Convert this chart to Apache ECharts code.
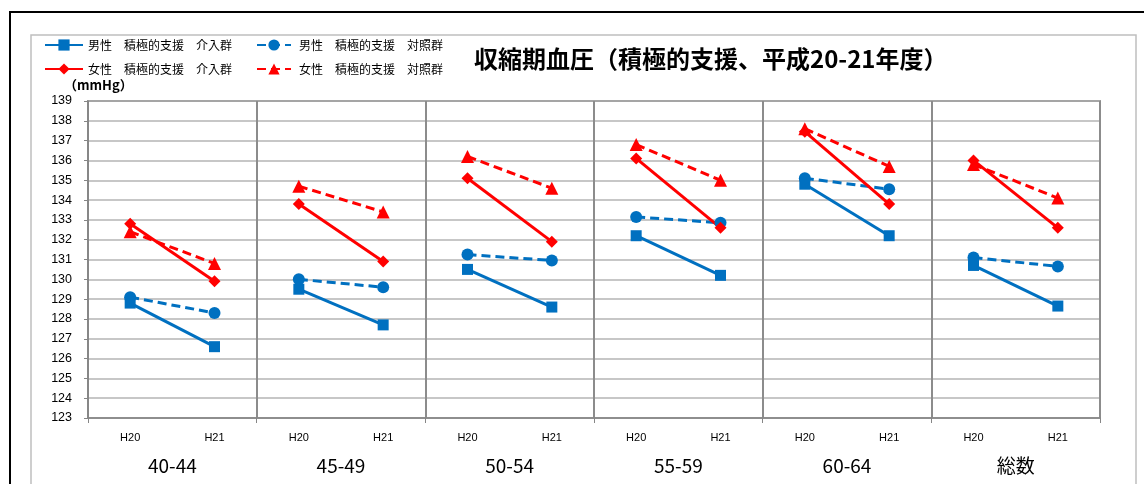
<!DOCTYPE html>
<html>
<head>
<meta charset="utf-8">
<script src="https://cdn.jsdelivr.net/npm/echarts@6/dist/echarts.min.js"></script>
<style>
  html, body { margin: 0; padding: 0; background: #fff; }
  #chart { width: 1144px; height: 484px; }
</style>
</head>
<body>
<div id="chart"></div>
<script>
// Age groups and survey years
const groups = ['40-44', '45-49', '50-54', '55-59', '60-64', '総数'];
const years = ['H20', 'H21'];

// Systolic blood pressure (mmHg), [H20, H21] per age group
const maleIntervention   = [[128.8, 126.6], [129.5, 127.7], [130.5, 128.6], [132.2, 130.2], [134.8, 132.2], [130.7, 128.65]];
const maleControl        = [[129.1, 128.3], [130.0, 129.6], [131.25, 130.95], [133.15, 132.85], [135.1, 134.55], [131.1, 130.65]];
const femaleIntervention = [[132.8, 129.9], [133.8, 130.9], [135.1, 131.9], [136.1, 132.6], [137.45, 133.8], [136.0, 132.6]];
const femaleControl      = [[132.4, 130.8], [134.7, 133.4], [136.2, 134.6], [136.8, 135.0], [137.6, 135.7], [135.8, 134.1]];

// Y-axis range (mmHg)
const yMin = 123, yMax = 139, yStep = 1;

const BLUE = '#0070C0';
const RED = '#FF0000';
const JP = '"Noto Sans CJK JP", "Noto Sans", sans-serif';

const names = {
  mi: '男性　積極的支援　介入群',
  mc: '男性　積極的支援　対照群',
  fi: '女性　積極的支援　介入群',
  fc: '女性　積極的支援　対照群'
};

const defs = [
  { name: names.mi, values: maleIntervention,   color: BLUE, symbol: 'rect',     size: 11, dash: 'solid' },
  { name: names.mc, values: maleControl,        color: BLUE, symbol: 'circle',   size: 12, dash: [9, 5] },
  { name: names.fi, values: femaleIntervention, color: RED,  symbol: 'diamond',  size: 12, dash: 'solid' },
  { name: names.fc, values: femaleControl,      color: RED,  symbol: 'triangle', size: 13, dash: [9, 5] }
];

// x categories: H20/H21 repeated per group
const xCats = [];
groups.forEach(() => years.forEach(y => xCats.push(y)));

// One line segment per group so lines do not join across groups
const series = [];
defs.forEach(d => {
  d.values.forEach((pair, g) => {
    const data = xCats.map(() => '-');
    data[g * 2] = pair[0];
    data[g * 2 + 1] = pair[1];
    series.push({
      type: 'line',
      name: d.name,
      data: data,
      xAxisIndex: 0,
      symbol: d.symbol,
      symbolSize: d.size,
      showSymbol: true,
      connectNulls: false,
      itemStyle: { color: d.color },
      lineStyle: { color: d.color, width: 3, type: d.dash },
      emphasis: { disabled: true },
      animation: false
    });
  });
});

const chart = echarts.init(document.getElementById('chart'), null, { renderer: 'canvas' });

chart.setOption({
  backgroundColor: '#ffffff',
  animation: false,
  title: {
    text: '収縮期血圧（積極的支援、平成20-21年度）',
    left: 474,
    top: 47,
    padding: 0,
    textStyle: { fontFamily: JP, fontSize: 24, fontWeight: 'bold', color: '#000' }
  },
  legend: [
    {
      data: [names.mi, names.fi],
      orient: 'vertical',
      left: 44,
      top: 39,
      padding: 0,
      itemWidth: 38,
      itemHeight: 14,
      itemGap: 12,
      textStyle: { fontFamily: JP, fontSize: 12, color: '#000' }
    },
    {
      data: [names.mc, names.fc],
      orient: 'vertical',
      left: 256,
      top: 39,
      padding: 0,
      itemWidth: 34,
      itemHeight: 14,
      itemGap: 12,
      textStyle: { fontFamily: JP, fontSize: 12, color: '#000', padding: [0, 0, 0, 3] }
    }
  ],
  graphic: [
    { type: 'rect', z: -10, silent: true,
      shape: { x: 10, y: 12, width: 1200, height: 600 },
      style: { fill: 'none', stroke: '#000', lineWidth: 2 } },
    { type: 'rect', z: -9, silent: true,
      shape: { x: 31, y: 35, width: 1105, height: 600 },
      style: { fill: 'none', stroke: '#bfbfbf', lineWidth: 1.5 } },
    { type: 'text', left: 64, top: 79, silent: true,
      style: { text: '（mmHg）', fontFamily: JP, fontSize: 13, fontWeight: 'bold', fill: '#000' } }
  ],
  grid: {
    left: 88, right: 44, top: 101, bottom: 66,
    show: true, borderColor: '#4d4d4d', borderWidth: 1.5, backgroundColor: 'transparent'
  },
  xAxis: [
    {
      type: 'category',
      data: xCats,
      boundaryGap: true,
      axisLine: { show: true, lineStyle: { color: '#868686', width: 1.5 } },
      axisTick: { show: false },
      axisLabel: { interval: 0, margin: 14, fontSize: 11, color: '#000', fontFamily: '"Liberation Sans", Arial, sans-serif' },
      splitLine: { show: false }
    },
    {
      type: 'category',
      data: groups,
      position: 'bottom',
      boundaryGap: true,
      axisLine: { show: false },
      axisTick: { show: true, interval: 0, length: 5, lineStyle: { color: '#868686', width: 1 } },
      axisLabel: { interval: 0, margin: 38, fontSize: 19, color: '#000', fontFamily: JP },
      splitLine: { show: true, interval: 0, lineStyle: { color: '#8c8c8c', width: 2 } }
    }
  ],
  yAxis: {
    type: 'value',
    min: yMin,
    max: yMax,
    interval: yStep,
    axisLine: { show: true, lineStyle: { color: '#868686', width: 1.5 } },
    axisTick: { show: true, length: 4, lineStyle: { color: '#868686' } },
    axisLabel: { margin: 16, fontSize: 12.5, color: '#000', fontFamily: '"Liberation Sans", Arial, sans-serif' },
    splitLine: { show: true, lineStyle: { color: '#b4b4b4', width: 1.5 } }
  },
  series: series
});
</script>
</body>
</html>
